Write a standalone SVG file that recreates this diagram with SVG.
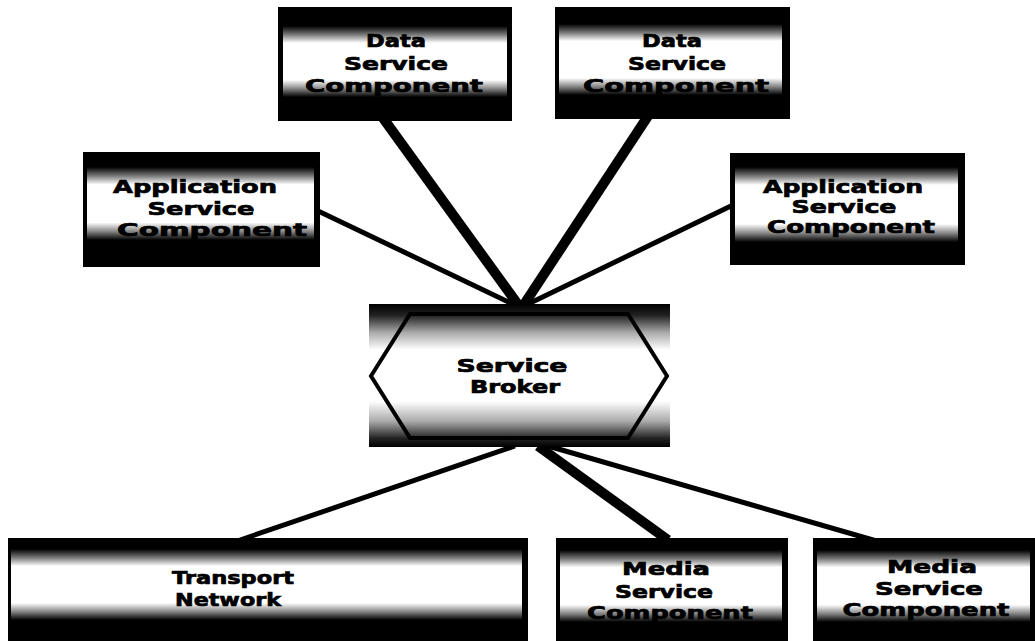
<svg xmlns="http://www.w3.org/2000/svg" width="1035" height="641" viewBox="0 0 1035 641">
<defs>
<linearGradient id="band" x1="0" y1="0" x2="0" y2="1">
<stop offset="0" stop-color="#000"/>
<stop offset="0.12" stop-color="#777"/>
<stop offset="0.24" stop-color="#fff"/>
<stop offset="0.76" stop-color="#fff"/>
<stop offset="0.88" stop-color="#888"/>
<stop offset="1" stop-color="#000"/>
</linearGradient>
<linearGradient id="broker" x1="0" y1="0" x2="0" y2="1">
<stop offset="0" stop-color="#000"/>
<stop offset="0.08" stop-color="#222"/>
<stop offset="0.2" stop-color="#aaa"/>
<stop offset="0.32" stop-color="#fff"/>
<stop offset="0.68" stop-color="#fff"/>
<stop offset="0.82" stop-color="#aaa"/>
<stop offset="0.94" stop-color="#222"/>
<stop offset="1" stop-color="#000"/>
</linearGradient>
</defs>
<style>
.box{fill:#000}
.band{fill:url(#band)}
.t{font-family:"DejaVu Sans","Liberation Sans",sans-serif;font-weight:bold;font-size:18px;fill:#000;stroke:#000;stroke-width:0.7;text-anchor:middle}
.c{stroke:#000;fill:none;stroke-linecap:butt}
.thick{stroke-width:10}
.thin{stroke-width:5}
</style>
<rect width="1035" height="641" fill="#fff"/>
<g id="connectors">
<line class="c thick" x1="383" y1="118" x2="519" y2="306"/>
<line class="c thick" x1="648" y1="116" x2="523" y2="306"/>
<line class="c thin" x1="316" y1="210" x2="517" y2="306"/>
<line class="c thin" x1="733" y1="205" x2="524" y2="306"/>
<line class="c thin" x1="515" y1="446" x2="240" y2="540"/>
<line class="c thick" x1="538" y1="446" x2="668" y2="540"/>
<line class="c thin" x1="548" y1="446" x2="880" y2="542"/>
</g>
<g id="data1">
<rect class="box" x="278" y="7" width="234" height="114"/>
<rect class="band" x="283" y="26" width="224" height="71"/>
<text class="t" x="396" y="47" textLength="60" lengthAdjust="spacingAndGlyphs">Data</text>
<text class="t" x="396" y="70" textLength="104" lengthAdjust="spacingAndGlyphs">Service</text>
<text class="t" x="394" y="92" textLength="178" lengthAdjust="spacingAndGlyphs">Component</text>
</g>
<g id="data2">
<rect class="box" x="555" y="7" width="235" height="112"/>
<rect class="band" x="559" y="24" width="223" height="71"/>
<text class="t" x="672" y="47" textLength="60" lengthAdjust="spacingAndGlyphs">Data</text>
<text class="t" x="677" y="70" textLength="98" lengthAdjust="spacingAndGlyphs">Service</text>
<text class="t" x="676" y="92" textLength="186" lengthAdjust="spacingAndGlyphs">Component</text>
</g>
<g id="app1">
<rect class="box" x="83" y="152" width="237" height="115"/>
<rect class="band" x="87" y="167" width="227" height="73"/>
<text class="t" x="195" y="193" textLength="164" lengthAdjust="spacingAndGlyphs">Application</text>
<text class="t" x="201" y="215" textLength="107" lengthAdjust="spacingAndGlyphs">Service</text>
<text class="t" x="212" y="236" textLength="190" lengthAdjust="spacingAndGlyphs">Component</text>
</g>
<g id="app2">
<rect class="box" x="730" y="153" width="235" height="112"/>
<rect class="band" x="735" y="167" width="223" height="75"/>
<text class="t" x="843" y="193" textLength="160" lengthAdjust="spacingAndGlyphs">Application</text>
<text class="t" x="844" y="213" textLength="105" lengthAdjust="spacingAndGlyphs">Service</text>
<text class="t" x="851" y="233" textLength="168" lengthAdjust="spacingAndGlyphs">Component</text>
</g>
<g id="broker-node">
<rect x="369" y="304" width="301" height="143" fill="url(#broker)"/>
<polygon points="371,376 410,314 628,314 667,376 628,438 410,438" fill="none" stroke="#000" stroke-width="4"/>
<text class="t" x="512" y="372" textLength="111" lengthAdjust="spacingAndGlyphs">Service</text>
<text class="t" x="515" y="393" textLength="90" lengthAdjust="spacingAndGlyphs">Broker</text>
</g>
<g id="transport">
<rect class="box" x="8" y="538" width="520" height="103"/>
<rect class="band" x="11" y="549" width="511" height="71"/>
<text class="t" x="233" y="584" textLength="122" lengthAdjust="spacingAndGlyphs">Transport</text>
<text class="t" x="228" y="606" textLength="106" lengthAdjust="spacingAndGlyphs">Network</text>
</g>
<g id="media1">
<rect class="box" x="556" y="538" width="232" height="103"/>
<rect class="band" x="560" y="550" width="222" height="72"/>
<text class="t" x="666" y="575" textLength="88" lengthAdjust="spacingAndGlyphs">Media</text>
<text class="t" x="664" y="598" textLength="98" lengthAdjust="spacingAndGlyphs">Service</text>
<text class="t" x="670" y="619" textLength="166" lengthAdjust="spacingAndGlyphs">Component</text>
</g>
<g id="media2">
<rect class="box" x="813" y="538" width="222" height="103"/>
<rect class="band" x="817" y="550" width="213" height="72"/>
<text class="t" x="932" y="573" textLength="90" lengthAdjust="spacingAndGlyphs">Media</text>
<text class="t" x="929" y="595" textLength="108" lengthAdjust="spacingAndGlyphs">Service</text>
<text class="t" x="926" y="616" textLength="167" lengthAdjust="spacingAndGlyphs">Component</text>
</g>
</svg>
